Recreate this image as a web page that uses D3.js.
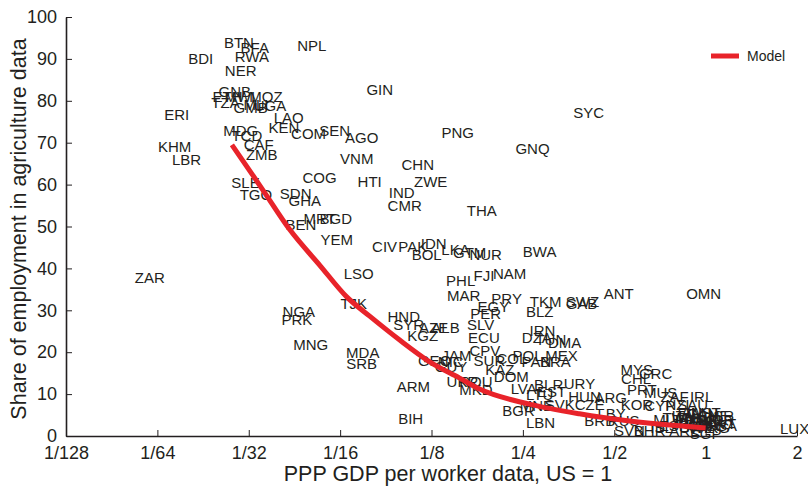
<!DOCTYPE html>
<html>
<head>
<meta charset="utf-8">
<script src="https://cdn.jsdelivr.net/npm/d3@7"></script>
<style>
  html, body { margin: 0; padding: 0; background: #fff; }
  svg text { font-family: "Liberation Sans", Arial, Helvetica, sans-serif; fill: #231f20; }
</style>
</head>
<body>
<svg id="chart" width="808" height="487"></svg>
<script>
// Country codes with PPP GDP per worker (US = 1) and agriculture share of employment (%)
const codes = ["BTN","BFA","RWA","NPL","BDI","NER","GIN","GNB","ETH","MWI","MOZ","TZA","GMB","UGA","MLI","LAO","ERI","KEN","MDG","TCD",
  "COM","SEN","AGO","PNG","SYC","GNQ","KHM","LBR","CAF","ZMB","VNM","CHN","COG","HTI","ZWE","IND","SLE","TGO","SDN","GHA",
  "CMR","THA","MRT","BGD","BEN","YEM","CIV","PAK","IDN","BOL","LKA","GTM","NUR","BWA","ZAR","LSO","PHL","FJI","NAM","MAR",
  "PRY","EGY","TKM","SWZ","GAB","ANT","OMN","BLZ","NGA","PRK","TJK","HND","PER","SYR","AZE","ALB","KGZ","SLV","ECU","IRN",
  "DZA","TUN","DMA","MNG","MDA","SRB","CPV","JAM","POL","MEX","GEO","NIC","GUY","SUR","COL","PAN","BRA","KAZ","DOM","MYS",
  "CHL","GRC","ARM","UKR","ROU","MKD","LVA","BLR","URY","LTU","EST","HUN","ARG","PRT","MUS","ZAF","CZE","SVK","KOR","CYP",
  "SAU","NZL","IRL","BGR","MNE","BIH","LBN","LBY","BRB","RUS","SVN","BHR","ISL","ESP","SGP","USA","LUX","ITA","FRA","AUS",
  "NLD","BEL","AUT","DEU","JPN","GBR","SWE","DNK","CHE","NOR","FIN","CAN","HKG","KWT","ISR","ARE","TWN","MLT"];
const gdp = [0.0290,0.0327,0.0320,0.0504,0.0217,0.0294,0.0844,0.0281,0.0266,0.0292,0.0356,0.0262,0.0317,0.0367,0.0330,0.0423,0.0181,0.0408,0.0294,0.0308,
  0.0492,0.0600,0.0736,0.1525,0.412,0.269,0.0178,0.0195,0.0337,0.0345,0.0709,0.1126,0.0535,0.0782,0.1242,0.0997,0.0305,0.0330,0.0446,0.0478,
  0.1020,0.183,0.0535,0.0605,0.0464,0.0609,0.0876,0.1084,0.1271,0.1205,0.150,0.167,0.1885,0.284,0.01475,0.0720,0.156,0.186,0.226,0.1595,
  0.221,0.200,0.297,0.393,0.390,0.517,0.985,0.284,0.0457,0.0450,0.0693,0.1013,0.1885,0.1052,0.1271,0.139,0.117,0.1815,0.186,0.290,
  0.278,0.309,0.343,0.0500,0.0742,0.0736,0.1875,0.151,0.259,0.335,0.128,0.1447,0.145,0.194,0.230,0.277,0.320,0.210,0.229,0.593,
  0.590,0.684,0.109,0.158,0.175,0.175,0.2516,0.304,0.384,0.284,0.311,0.399,0.487,0.616,0.711,0.79,0.415,0.331,0.594,0.706,
  0.906,0.821,0.970,0.242,0.277,0.1067,0.286,0.490,0.448,0.537,0.561,0.654,0.716,0.785,1.0,1.129,1.964,0.840,0.886,0.934,
  0.955,1.047,1.0,0.913,0.86,0.985,0.934,1.015,1.063,1.095,0.886,0.977,1.063,1.112,1.129,0.853,0.82,0.75];
const agri = [94.0,92.6,90.5,93.1,90.0,87.1,82.6,82.3,81.1,80.9,80.9,79.5,78.3,78.8,79.2,75.9,76.6,73.7,72.8,71.6,
  72.1,72.8,71.1,72.3,77.3,68.7,69.0,65.9,69.5,67.1,66.1,64.7,61.6,60.6,60.6,58.2,60.4,57.5,57.8,56.3,
  55.1,53.7,52.0,52.0,50.4,46.8,45.3,45.3,45.8,43.4,44.6,43.7,43.4,43.9,37.7,38.7,37.2,38.2,38.7,33.4,
  32.9,31.0,32.0,32.0,31.7,34.1,33.9,29.8,29.8,27.7,31.5,28.6,29.1,26.5,25.8,25.8,23.9,26.7,23.4,25.1,
  23.4,22.9,22.2,21.7,20.0,17.2,20.5,19.3,19.1,19.3,17.9,17.7,16.5,18.1,18.4,17.7,17.7,15.8,14.1,15.8,
  13.8,15.0,11.7,12.9,13.1,11.0,11.2,12.2,12.4,9.8,10.5,9.3,9.1,11.0,10.3,9.3,7.6,7.6,7.4,7.2,
  7.6,7.4,9.3,6.0,7.2,4.1,3.1,5.3,3.6,3.6,1.2,1.2,1.9,2.6,0.5,2.4,1.7,4.8,3.8,5.7,
  4.3,3.6,5.5,3.1,2.9,2.6,1.9,3.3,4.8,3.8,5.5,5.3,1.9,2.9,4.8,1.4,4.3,3.8];

// Model-implied agriculture share along the income range
const modelGdp = [0.0275,0.0348,0.0427,0.0535,0.0657,0.0782,0.0982,0.1233,0.1548,0.180,0.263,0.384,0.561,0.761,1.0];
const modelShare = [69.5,58.7,49.2,40.8,33.2,28.6,22.9,17.7,13.8,11.2,7.6,5.3,3.6,2.6,1.9];

// Axis ticks
const xTicks = [1/128,1/64,1/32,1/16,1/8,1/4,1/2,1,2];
const xTickLabels = ["1/128","1/64","1/32","1/16","1/8","1/4","1/2","1","2"];
const yTicks = [0,10,20,30,40,50,60,70,80,90,100];

const svg = d3.select("#chart");
const margin = {left: 66, right: 11, top: 17, bottom: 51};
const W = 808, H = 487;

const x = d3.scaleLog().base(2).domain([1/128, 2]).range([margin.left, W - margin.right]);
const y = d3.scaleLinear().domain([0, 100]).range([H - margin.bottom, margin.top]);

// Axes with inward ticks
const xAxis = d3.axisBottom(x).tickValues(xTicks)
  .tickFormat((d, i) => xTickLabels[i]).tickSizeInner(-6).tickSizeOuter(0).tickPadding(10);
const gx = svg.append("g").attr("transform", `translate(0,${y(0)})`).call(xAxis);
gx.select(".domain").attr("stroke", "#231f20").attr("stroke-width", 1.6);
gx.selectAll(".tick line").attr("stroke", "#231f20").attr("stroke-width", 1);
gx.selectAll(".tick text").attr("font-size", 18).style("fill", "#231f20");

const yAxis = d3.axisLeft(y).tickValues(yTicks).tickSizeInner(-6).tickSizeOuter(0).tickPadding(9);
const gy = svg.append("g").attr("transform", `translate(${x(1/128)},0)`).call(yAxis);
gy.select(".domain").attr("stroke", "#231f20").attr("stroke-width", 1.6);
gy.selectAll(".tick line").attr("stroke", "#231f20").attr("stroke-width", 1);
gy.selectAll(".tick text").attr("font-size", 18).style("fill", "#231f20");

// Axis titles
svg.append("text")
  .attr("x", 448).attr("y", 481)
  .attr("text-anchor", "middle").attr("font-size", 21.5)
  .text("PPP GDP per worker data, US = 1");
svg.append("text")
  .attr("transform", "translate(26,229) rotate(-90)")
  .attr("text-anchor", "middle").attr("font-size", 21.5)
  .text("Share of employment in agriculture data");

// Country labels placed at each observation
const pts = codes.map((c, i) => ({code: c, g: gdp[i], s: agri[i]}));
svg.append("g").selectAll("text").data(pts).join("text")
  .attr("x", d => x(d.g)).attr("y", d => y(d.s))
  .attr("text-anchor", "middle").attr("dy", "0.36em")
  .attr("font-size", 15)
  .text(d => d.code);

// Model curve
const model = modelGdp.map((g, i) => ({g, s: modelShare[i]}));
svg.append("path").datum(model)
  .attr("fill", "none").attr("stroke", "#e8232a").attr("stroke-width", 5)
  .attr("stroke-linecap", "butt")
  .attr("d", d3.line().x(d => x(d.g)).y(d => y(d.s)).curve(d3.curveMonotoneX));

// Legend
const lg = svg.append("g").attr("transform", "translate(711,56)");
lg.append("line").attr("x1", 0).attr("x2", 28).attr("y1", 0).attr("y2", 0)
  .attr("stroke", "#e8232a").attr("stroke-width", 5);
lg.append("text").attr("x", 36).attr("y", 0).attr("dy", "0.35em").attr("font-size", 14).text("Model");
</script>
</body>
</html>
